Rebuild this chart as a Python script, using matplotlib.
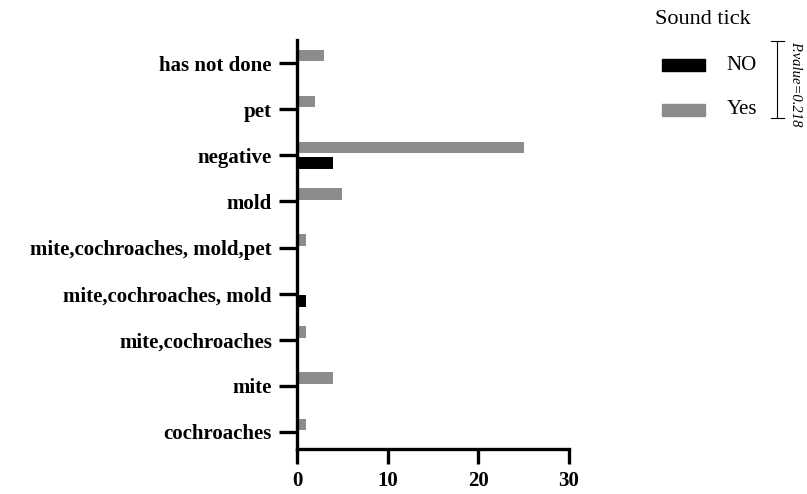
import matplotlib.pyplot as plt
from matplotlib.patches import Rectangle
from matplotlib.lines import Line2D
import numpy as np

plt.rcParams['font.family'] = ['Liberation Serif', 'DejaVu Serif']

categories = ['cochroaches', 'mite', 'mite,cochroaches', 'mite,cochroaches, mold',
              'mite,cochroaches, mold,pet', 'mold', 'negative', 'pet', 'has not done']
no_vals = [0, 0, 0, 1, 0, 0, 4, 0, 0]
yes_vals = [1, 4, 1, 0, 1, 5, 25, 2, 3]
xticks = [0, 10, 20, 30]

fig = plt.figure(figsize=(8.07, 4.94), dpi=100)
ax = fig.add_axes([0.368, 0.091, 0.337, 0.828])

y = np.arange(len(categories))
h = 0.25
gap = 0.04
ax.barh(y + h / 2 + gap, yes_vals, height=h, color='#8c8c8c')
ax.barh(y - h / 2 - gap, no_vals, height=h, color='black')

ax.set_xlim(0, 30)
ax.set_ylim(-0.37, 8.5)
ax.set_xticks(xticks)
ax.set_yticks(y)
ax.set_yticklabels(categories, fontsize=15, fontweight='bold')
ax.set_xticklabels([str(t) for t in xticks], fontsize=15, fontweight='bold')
for s in ['top', 'right']:
    ax.spines[s].set_visible(False)
for s in ['left', 'bottom']:
    ax.spines[s].set_linewidth(2.4)
ax.tick_params(axis='y', length=13, width=2.4, pad=5)
ax.tick_params(axis='x', length=11, width=2.4, pad=5)

# legend drawn by hand
fig.text(0.812, 0.96, 'Sound tick', fontsize=16, ha='left', va='center')
rows = [('NO', 'black', 0.868), ('Yes', '#8c8c8c', 0.778)]
for label, col, yy in rows:
    fig.add_artist(Rectangle((0.820, yy - 0.012), 0.054, 0.024,
                             transform=fig.transFigure, color=col))
    fig.text(0.900, yy, label, fontsize=15, ha='left', va='center')

bx = 0.963
fig.add_artist(Line2D([bx, bx], [0.918, 0.762], transform=fig.transFigure,
                      color='black', lw=0.8))
for yy in [0.918, 0.762]:
    fig.add_artist(Line2D([bx - 0.008, bx + 0.008], [yy, yy],
                          transform=fig.transFigure, color='black', lw=0.8))
fig.text(0.986, 0.83, 'P.value=0.218', fontsize=10.5, style='italic',
         rotation=270, ha='center', va='center')

fig.savefig('out.png', dpi=100)
